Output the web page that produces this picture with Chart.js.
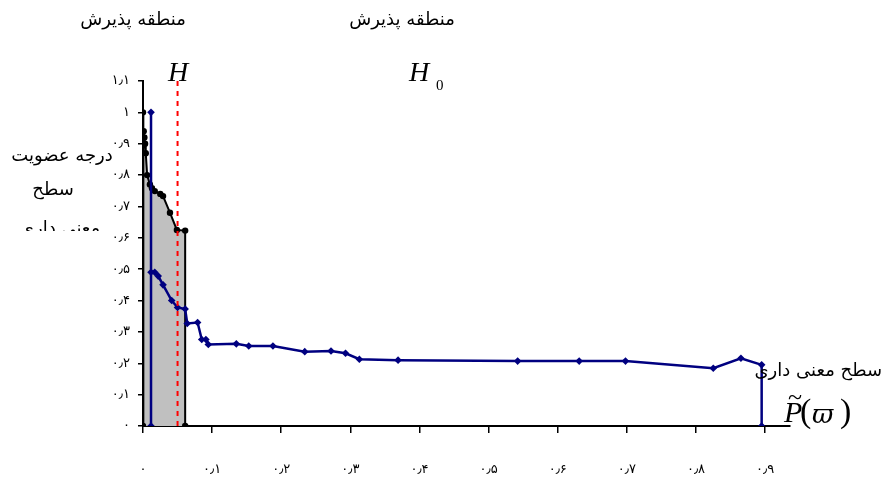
<!DOCTYPE html>
<html>
<head>
<meta charset="utf-8">
<script src="https://cdn.jsdelivr.net/npm/chart.js@4"></script>
<style>
  body { margin: 0; background: #fff; }
  canvas { display: block; }
</style>
</head>
<body>
<canvas id="chart" width="884" height="485"></canvas>
<script>
// --------------------
// Data
// --------------------
// black curve (membership of H), filled grey underneath
const hX = [0, 0, 0.001, 0.002, 0.003, 0.004, 0.006, 0.01, 0.013, 0.017, 0.025, 0.029, 0.039, 0.049, 0.061, 0.061];
const hY = [0, 1, 0.94, 0.92, 0.9, 0.87, 0.8, 0.77, 0.758, 0.749, 0.74, 0.733, 0.68, 0.625, 0.623, 0];

// blue curve (H0)
const h0X = [0.0116, 0.0116, 0.0116, 0.017, 0.022, 0.029, 0.0415, 0.05, 0.061, 0.064, 0.079, 0.085, 0.091, 0.0945,
  0.135, 0.153, 0.188, 0.234, 0.272, 0.293, 0.313, 0.369, 0.542, 0.631, 0.698, 0.825, 0.865, 0.895, 0.895];
const h0Y = [0, 1, 0.49, 0.49, 0.478, 0.45, 0.40, 0.378, 0.373, 0.327, 0.33, 0.276, 0.276, 0.26,
  0.262, 0.255, 0.255, 0.237, 0.239, 0.232, 0.213, 0.21, 0.207, 0.207, 0.207, 0.184, 0.216, 0.195, 0];

// red dashed significance level
const alphaX = [0.05, 0.05];
const alphaY = [0, 1.1];

// tick labels
const xTicks = [0, 0.1, 0.2, 0.3, 0.4, 0.5, 0.6, 0.7, 0.8, 0.9];
const yTicks = [0, 0.1, 0.2, 0.3, 0.4, 0.5, 0.6, 0.7, 0.8, 0.9, 1, 1.1];
const xMax = 0.936;
const yMax = 1.1;

// --------------------
// Helpers
// --------------------
const faDigits = "۰۱۲۳۴۵۶۷۸۹";
function fa(v) {
  let s = (Math.round(v * 10) / 10).toString();
  return s.replace(/[0-9]/g, d => faDigits[+d]).replace(".", "٫");
}
const pts = (xs, ys) => xs.map((x, i) => ({ x: x, y: ys[i] }));

// --------------------
// Text annotations
// --------------------
const notes = {
  id: "notes",
  afterDraw(chart) {
    const ctx = chart.ctx;
    ctx.save();
    ctx.fillStyle = "#000";
    ctx.textBaseline = "middle";
    ctx.textAlign = "center";
    ctx.font = "18px 'DejaVu Sans'";
    ctx.fillText("منطقه پذیرش", 133, 20);
    ctx.fillText("منطقه پذیرش", 402, 20);

    // y axis title (third line cut off)
    ctx.fillText("درجه عضویت", 62, 156);
    ctx.fillText("سطح", 53, 190);
    ctx.save();
    ctx.beginPath();
    ctx.rect(0, 200, 140, 31);
    ctx.clip();
    ctx.fillText("معنی داری", 60, 229);
    ctx.restore();

    // x axis title
    ctx.textAlign = "right";
    ctx.fillText("سطح معنی داری", 882, 371);

    // H and H0
    ctx.textAlign = "left";
    ctx.font = "italic 28px 'Liberation Serif'";
    ctx.fillText("H", 168, 74);
    ctx.fillText("H", 409, 74);
    ctx.font = "15px 'Liberation Serif'";
    ctx.fillText("0", 436, 86);

    // P~(pomega)
    ctx.font = "italic 30px 'Liberation Serif'";
    ctx.fillText("P", 784, 414);
    ctx.font = "26px 'Liberation Serif'";
    ctx.fillText("~", 788, 398);
    ctx.font = "34px 'Liberation Serif'";
    ctx.fillText("(", 800, 413);
    ctx.fillText(")", 840, 413);
    ctx.font = "italic 26px 'DejaVu Serif'";
    ctx.fillText("ϖ", 812, 416);
    ctx.restore();
  }
};

// --------------------
// Chart.js Setup
// --------------------
new Chart(document.getElementById("chart"), {
  type: "line",
  data: {
    datasets: [
      {
        label: "alpha",
        data: pts(alphaX, alphaY),
        borderColor: "#ff0000",
        borderWidth: 2,
        borderDash: [5, 5],
        pointRadius: 0,
        fill: false
      },
      {
        label: "H0",
        data: pts(h0X, h0Y),
        borderColor: "#000080",
        backgroundColor: "#000080",
        borderWidth: 2.5,
        pointStyle: "rectRot",
        pointRadius: 3.8,
        pointBorderWidth: 0,
        fill: false
      },
      {
        label: "H",
        data: pts(hX, hY),
        borderColor: "#000",
        backgroundColor: "#c0c0c0",
        pointBackgroundColor: "#000",
        borderWidth: 2,
        pointRadius: 3.2,
        pointBorderWidth: 0,
        fill: "origin"
      }
    ]
  },
  options: {
    responsive: false,
    animation: false,
    devicePixelRatio: 1,
    layout: { padding: { top: 81, right: 94, left: 0, bottom: 0 } },
    plugins: { legend: { display: false }, tooltip: { enabled: false } },
    elements: { line: { tension: 0 } },
    scales: {
      x: {
        type: "linear",
        min: 0,
        max: xMax,
        afterBuildTicks: s => { s.ticks = xTicks.map(v => ({ value: v })); },
        afterFit: s => { s.height = 59; },
        grid: { drawOnChartArea: false, drawTicks: true, tickLength: 7, color: "#000", lineWidth: 1.5 },
        border: { color: "#000", width: 2 },
        ticks: {
          padding: 29,
          color: "#000",
          font: { family: "DejaVu Sans", size: 13 },
          maxRotation: 0,
          callback: v => fa(v)
        }
      },
      y: {
        type: "linear",
        min: 0,
        max: yMax,
        afterBuildTicks: s => { s.ticks = yTicks.map(v => ({ value: v })); },
        afterFit: s => { s.width = 143; },
        grid: { drawOnChartArea: false, drawTicks: true, tickLength: 5, color: "#000", lineWidth: 1.5 },
        border: { color: "#000", width: 2 },
        ticks: {
          padding: 8,
          color: "#000",
          font: { family: "DejaVu Sans", size: 13 },
          callback: v => fa(v)
        }
      }
    }
  },
  plugins: [notes]
});
</script>
</body>
</html>
